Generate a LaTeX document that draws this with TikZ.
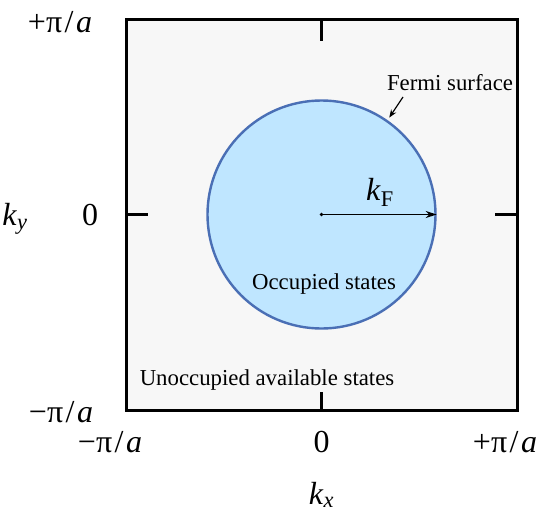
\documentclass[tikz,border=0pt]{standalone}
\usepackage{fontspec}
\setmainfont{Liberation Serif}
\usetikzlibrary{arrows.meta}
\definecolor{bzbg}{HTML}{F7F7F7}
\definecolor{fsfill}{HTML}{BFE6FF}
\definecolor{fsline}{HTML}{4A6FB5}
\newcommand{\pia}{π\kern2.5pt/\kern2.5pt\textit{a}}
\tikzset{
  axlab/.style={font=\fontsize{32}{36}\selectfont, inner sep=0pt},
  txtlab/.style={font=\fontsize{22.8}{26}\selectfont, inner sep=0pt},
  tick/.style={line width=2.6pt},
  arr/.style={line width=1.4pt, -{Stealth[length=11pt,width=7pt]}}
}
\begin{document}
\begin{tikzpicture}[x=1pt,y=-1pt]
\useasboundingbox (0,0) rectangle (545,512);
% Brillouin zone
\draw[line width=3pt, fill=bzbg] (126,19) rectangle (517,410);
% ticks
\coordinate (c) at (321.5,214.5);
\draw[tick] (321.5,19) -- (321.5,41);
\draw[tick] (321.5,410) -- (321.5,392);
\draw[tick] (126,214.5) -- (148,214.5);
\draw[tick] (517,214.5) -- (495,214.5);
% Fermi circle
\node[circle, minimum size=228pt, inner sep=0pt, draw=fsline, line width=2.4pt, fill=fsfill] (fs) at (c) {};
% kF arrow
\fill (c) circle (1.8pt);
\draw[arr] (c) -- (fs.east);
\node[axlab] (kF) at (380,192) {\textit{k}\textsubscript{F}};
% labels
\node[txtlab] (occ) at (324,284) {Occupied states};
\node[txtlab] (unocc) at (267,380) {Unoccupied available states};
\node[txtlab] (fermi) at (450,83) {Fermi surface};
\coordinate (fa) at (403,97);
\draw[line width=1.2pt, -{Stealth[length=8pt,width=6pt]}, shorten >=3pt] (fa) -- (fs.55);
% axis labels
\node[axlab] (ypi) at (60,22) {+\pia};
\node[axlab] (y0) at (90,215) {0};
\node[axlab] (ymi) at (61,412) {−\pia};
\node[axlab] (ky) at (15,219) {\textit{k}\textsubscript{\textit{y}}};
\node[axlab] (xmi) at (110,442) {−\pia};
\node[axlab] (x0) at (321.5,442) {0};
\node[axlab] (xpi) at (505,442) {+\pia};
\node[axlab] (kx) at (321.5,495) {\textit{k}\textsubscript{\textit{x}}};
\end{tikzpicture}
\end{document}
